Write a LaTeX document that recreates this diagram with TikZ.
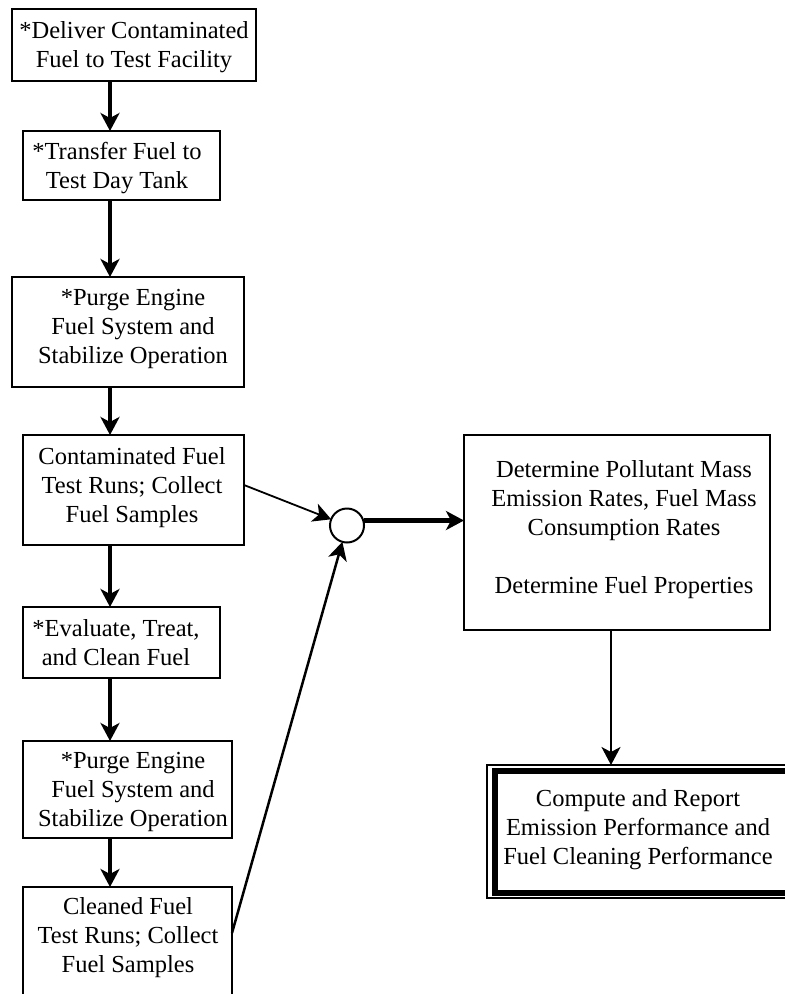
\documentclass[tikz,border=0pt]{standalone}
\usepackage{fontspec}
\setmainfont{Liberation Serif}
\usetikzlibrary{arrows.meta}
\begin{document}
\begin{tikzpicture}[x=1pt,y=-1pt,
  box/.style={draw, line width=2.6pt, inner sep=0pt, outer sep=0pt},
  lbl/.style={inner sep=0pt, align=center, font={\fontsize{24.5}{29}\selectfont}},
  tipped/.style={-{Stealth[length=18pt,width=19pt,inset=5pt]}},
  mainarr/.style={tipped, line width=4pt}]
\useasboundingbox (0,0) rectangle (785,994);
\clip (0,0) rectangle (785,994);
% boxes
\node[box, minimum width=244pt, minimum height=72pt] (b1) at (134,45) {};
\node[box, minimum width=197pt, minimum height=69pt] (b2) at (121.5,165.5) {};
\node[box, minimum width=232pt, minimum height=110pt] (b3) at (128,332) {};
\node[box, minimum width=221pt, minimum height=110pt] (b4) at (133.5,490) {};
\node[box, minimum width=197pt, minimum height=71pt] (b5) at (121.5,642.5) {};
\node[box, minimum width=209pt, minimum height=97pt] (b6) at (127.5,789.5) {};
\node[box, minimum width=209pt, minimum height=130pt] (b7) at (127.5,952) {};
\node[box, minimum width=306pt, minimum height=195pt] (b8) at (617,532.5) {};
\node[draw, line width=1.5pt, inner sep=0pt, outer sep=0pt, minimum width=346pt, minimum height=133pt] (b9o) at (660,831.5) {};
\node[draw, line width=6pt, inner sep=0pt, outer sep=0pt, minimum width=331pt, minimum height=121.5pt] (b9) at (660,831.75) {};
\node[draw, circle, line width=2pt, minimum size=34pt, inner sep=0pt, outer sep=0pt] (circ) at (347,525.5) {};
% labels
\node[lbl] (t1) at (134,47) {*Deliver Contaminated\\Fuel to Test Facility};
\node[lbl] (t2) at (117,168) {*Transfer Fuel to\\Test Day Tank};
\node[lbl] (t3) at (133,329) {*Purge Engine\\Fuel System and\\Stabilize Operation};
\node[lbl] (t4) at (132,488) {Contaminated Fuel\\Test Runs; Collect\\Fuel Samples};
\node[lbl] (t5) at (116,643) {*Evaluate, Treat,\\and Clean Fuel};
\node[lbl] (t6) at (133,792) {*Purge Engine\\Fuel System and\\Stabilize Operation};
\node[lbl] (t7) at (128,938) {Cleaned Fuel\\Test Runs; Collect\\Fuel Samples};
\node[lbl] (t8) at (624,530) {Determine Pollutant Mass\\Emission Rates, Fuel Mass\\Consumption Rates\\[29pt]Determine Fuel Properties};
\node[lbl] (t9) at (638,830) {Compute and Report\\Emission Performance and\\Fuel Cleaning Performance};
% connectors
\coordinate (ax) at (110,0);
\coordinate (ax2) at (611,0);
\draw[mainarr] (b1.south -| ax) -- (b2.north -| ax);
\draw[mainarr] (b2.south -| ax) -- (b3.north -| ax);
\draw[mainarr] (b3.south -| ax) -- (b4.north -| ax);
\draw[mainarr] (b4.south -| ax) -- (b5.north -| ax);
\draw[mainarr] (b5.south -| ax) -- (b6.north -| ax);
\draw[mainarr] (b6.south -| ax) -- (b7.north -| ax);
\draw[tipped, line width=1.8pt] ([yshift=5pt]b4.east) -- (circ);
\draw[tipped, line width=2.5pt] ([yshift=-46pt]b7.north east) -- (circ);
\coordinate (c1) at ([yshift=5pt]circ.east);
\draw[tipped, line width=5pt] (c1) -- (c1 -| b8.west);
\draw[tipped, line width=2pt] (b8.south -| ax2) -- (b9o.north -| ax2);
\end{tikzpicture}
\end{document}
